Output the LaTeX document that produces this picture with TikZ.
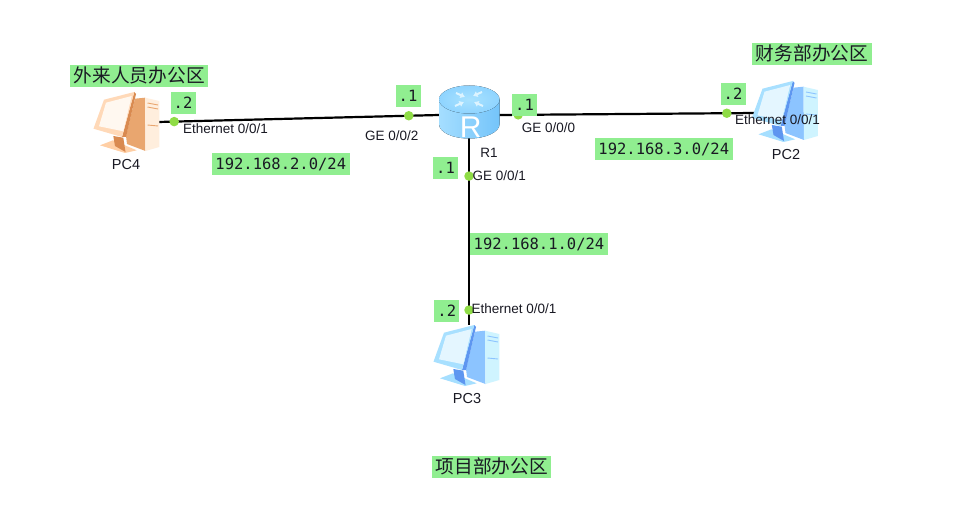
\documentclass[tikz,border=0pt]{standalone}
\usepackage{fontspec}
\setmainfont{Liberation Sans}
\newfontfamily\cjkface{Noto Sans CJK SC}
\newfontfamily\addrface{DejaVu Sans Mono}
\usetikzlibrary{arrows.meta}
\definecolor{tagfill}{RGB}{144,238,144}
\definecolor{portdot}{RGB}{143,220,70}
\definecolor{inktext}{RGB}{25,25,35}
% Palettes of the computers
\definecolor{bluebezel}{HTML}{A8E0FF}
\definecolor{blueside}{HTML}{8CC4FF}
\definecolor{bluefront}{HTML}{CFF4FF}
\definecolor{bluedark}{HTML}{5E96F0}
\definecolor{bluescreen}{HTML}{E4F6FF}
\definecolor{bluefoot}{HTML}{A6DFFF}
\definecolor{orangebezel}{HTML}{FFD9B8}
\definecolor{orangeside}{HTML}{E9A66F}
\definecolor{orangefront}{HTML}{FFEEDD}
\definecolor{orangedark}{HTML}{D98A50}
\definecolor{orangescreen}{HTML}{FFF8F0}
\definecolor{orangefoot}{HTML}{FFCFA5}
% Router colours
\definecolor{routertop}{HTML}{A8E2FF}
\definecolor{routerrim}{HTML}{8FD4FF}
\definecolor{routerleft}{HTML}{A5DEFF}
\definecolor{routerright}{HTML}{74C4FA}
\definecolor{routermark}{HTML}{DDF4FF}
% Desktop computer: foot, tower and monitor, drawn around the centre (467,355)
\newcommand{\desktop}[3]{%
  \begin{scope}[shift={(#1-467,#2-355)}]
    % foot and stand
    \fill[#3foot] (440,378.3) -- (453,373.3) -- (476.7,383.3) -- (465,386) -- cycle;
    \fill[#3dark] (453.3,369) -- (463.3,370.7) -- (465.5,385) -- (455,379) -- cycle;
    % tower: side and front
    \fill[#3side] (475,331.7) -- (485,330.7) -- (485.5,384) -- (467,377) -- (466,369) -- cycle;
    \fill[#3front] (485,330.7) -- (499.3,334) -- (499.3,380) -- (485.5,384) -- cycle;
    \draw[#3side,line width=.9pt] (487.5,336) -- (498,338) (487.5,340) -- (498,342) (487.5,358) -- (498,359);
    % monitor: rear edge, bezel, screen
    \fill[#3dark] (474.3,325) -- (476,327) -- (466,370) -- (462,370) -- cycle;
    \fill[#3bezel] (474.3,325) -- (444,332.7) -- (433.5,361.7) -- (462,370) -- cycle;
    \fill[#3screen] (471.7,329) -- (446,335.7) -- (439,359.3) -- (463.3,364.3) -- cycle;
  \end{scope}}
\tikzset{
  every node/.style={font=\fontsize{13.5}{14}\selectfont,text=inktext,inner sep=0pt},
  link/.style={draw=black,line width=2.2pt},
  port/.style={circle,fill=portdot,minimum size=9.5pt},
  device/.style={font=\fontsize{14.5}{15}\selectfont},
  tag/.style={fill=tagfill,minimum height=22pt,text=inktext,text height=11pt,text depth=0pt},
  hosttag/.style={tag,minimum width=25pt,font=\addrface\fontsize{15.5}{16}\selectfont},
  nettag/.style={tag,minimum width=138pt,font=\addrface\fontsize{15.5}{16}\selectfont},
  areatag/.style={tag,minimum width=#1,font=\cjkface\fontsize{18.7}{19}\selectfont,text height=15pt,text depth=2pt},
}
\begin{document}
\begin{tikzpicture}[x=1pt,y=-1pt]
  \useasboundingbox[fill=white] (0,0) rectangle (964,524);

  % Attachment areas of the four devices
  \node[minimum width=62pt,minimum height=60pt] (pc4) at (127,122) {};
  \node[minimum width=60pt,minimum height=46pt] (r1) at (469,115) {};
  \node[minimum width=58pt,minimum height=60pt] (pc2) at (785,113) {};
  \node[minimum width=60pt,minimum height=50pt] (pc3) at (469,350) {};

  % Links with their interface markers
  \draw[link] (pc4.east) -- node[port,pos=.057] (p41) {} node[port,pos=.893] (r12) {} (r1.west);
  \draw[link] (r1.east) -- node[port,pos=.074] (r10) {} node[port,pos=.887] (p21) {} (pc2.west);
  \draw[link] (r1.south) -- node[port,pos=.203] (r11) {} node[port,pos=.921] (p31) {} (pc3.north);

  % Router
  \fill[left color=routerleft,right color=routerright]
    (439,99.5) -- (439,124) .. controls (439,132) and (452,138.5) .. (469.3,138.5)
    .. controls (486,138.5) and (499.6,132) .. (499.6,124) -- (499.6,99.5) -- cycle;
  \fill[inner color=routertop,outer color=routerrim]
    (469.3,99.5) ellipse[x radius=30.3,y radius=14];
  \begin{scope}[routermark,line width=2pt,-{Latex[length=4.5pt,width=6.5pt]}]
    \draw (456,93) -- (465,97);
    \draw (482,92) -- (473,96);
    \draw (455,106) -- (464,102);
    \draw (483,106) -- (474,102);
  \end{scope}
  \node[text=white,font=\fontsize{30}{30}\selectfont] at (470.8,127) {R};

  % Computers
  \desktop{127}{122}{orange}
  \desktop{785.5}{111}{blue}
  \desktop{467}{355}{blue}

  % Device names
  \node[device] at (126,165) {PC4};
  \node at (489,153) {R1};
  \node[device] at (786,155) {PC2};
  \node[device] at (467,399) {PC3};

  % Interface names
  \node[anchor=west] at (183,129) {Ethernet 0/0/1};
  \node[anchor=west] at (365,136) {GE 0/0/2};
  \node[anchor=west] at (521.7,128) {GE 0/0/0};
  \node[anchor=west] at (472.5,176) {GE 0/0/1};
  \node[anchor=west] at (735,120) {Ethernet 0/0/1};
  \node[anchor=west] at (471.5,309) {Ethernet 0/0/1};

  % Host addresses
  \node[hosttag] at (183,103) {.2};
  \node[hosttag] at (408,96) {.1};
  \node[hosttag] at (524.5,105) {.1};
  \node[hosttag] at (445.5,168) {.1};
  \node[hosttag] at (733,94) {.2};
  \node[hosttag] at (446.8,310.5) {.2};

  % Subnets
  \node[nettag] at (280.8,164.2) {192.168.2.0/24};
  \node[nettag] at (663.8,149.2) {192.168.3.0/24};
  \node[nettag] at (539,244) {192.168.1.0/24};

  % Office areas
  \node[areatag=138pt] at (139.3,76.3) {外来人员办公区};
  \node[areatag=119.5pt] at (812,53.8) {财务部办公区};
  \node[areatag=118.5pt] at (491.7,466.7) {项目部办公区};
\end{tikzpicture}
\end{document}
